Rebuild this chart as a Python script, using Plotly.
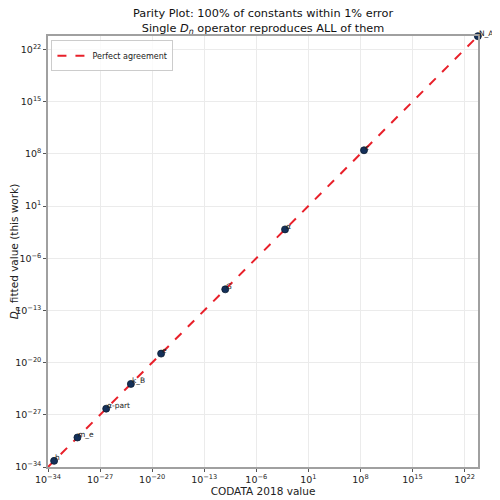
import math
import plotly.graph_objects as go

# constants: label, CODATA 2018 value, fitted D_n value
labels = ["h", "m_e", "α-part", "k_B", "e", "G", "α", "c", "N_A"]
codata = [6.62607015e-34, 9.1093837e-31, 6.6446573e-27, 1.380649e-23,
          1.602176634e-19, 6.6743e-11, 7.2973526e-3, 2.99792458e8, 6.02214076e23]
fitted = [6.631e-34, 9.118e-31, 6.651e-27, 1.3818e-23,
          1.6035e-19, 6.681e-11, 7.304e-3, 3.0007e8, 6.0275e23]

tick_vals = [1e-34, 1e-27, 1e-20, 1e-13, 1e-6, 1e1, 1e8, 1e15, 1e22]
line_span = [1e-34, 1e24]

# 10^n tick labels
tick_text = []
for v in tick_vals:
    exp = round(math.log10(v))
    tick_text.append("10<sup>" + str(exp).replace("-", "−") + "</sup>")

fig = go.Figure()

# y = x reference line
fig.add_trace(go.Scatter(
    x=line_span,
    y=line_span,
    mode='lines',
    line=dict(color='#e8202a', width=2, dash='dash'),
    name='Perfect agreement',
))

fig.add_trace(go.Scatter(
    x=codata,
    y=fitted,
    mode='markers',
    marker=dict(size=7, color='#14305a', line=dict(color='#0a1a30', width=0.8)),
    cliponaxis=False,
    showlegend=False,
))

# point labels, nudged up/right of each marker
for name, cx, fy in zip(labels, codata, fitted):
    fig.add_annotation(
        x=math.log10(cx), y=math.log10(fy),
        text=name, showarrow=False,
        xanchor='left', yanchor='middle',
        xshift=0, yshift=3,
        borderpad=0,
        font=dict(size=7.5, color='#222'),
    )

axis_style = dict(
    type='log',
    range=[-34, 23.8],
    tickvals=tick_vals,
    ticktext=tick_text,
    showgrid=True,
    gridcolor='#ebebeb',
    gridwidth=1,
    showline=True,
    mirror=True,
    linecolor='#a0a0a0',
    linewidth=1.5,
    ticks='outside',
    ticklen=3,
    tickcolor='#555',
    tickfont=dict(size=9.5, color='#222'),
    zeroline=False,
    automargin=False,
)

# page body adds ~8px offset, so the figure is a bit smaller than the window
fig.update_layout(
    width=492,
    height=492,
    margin=dict(l=40, r=22, t=28, b=33),
    paper_bgcolor='white',
    plot_bgcolor='white',
    font=dict(family='DejaVu Sans', color='#222'),
    title=dict(
        text='Parity Plot: 100% of constants within 1% error<br>'
             'Single <i>D</i><sub><i>n</i></sub> operator reproduces ALL of them',
        x=0.5, xref='paper', xanchor='center',
        yref='container', y=0.982, yanchor='top',
        font=dict(size=11.3, color='#111'),
        automargin=False,
    ),
    xaxis=dict(axis_style, title=dict(text='CODATA 2018 value', font=dict(size=10.5), standoff=2)),
    yaxis=dict(axis_style, title=dict(text='<i>D</i><sub><i>n</i></sub> fitted value (this work)',
                                      font=dict(size=10.5), standoff=4)),
    legend=dict(
        x=0.008, y=0.99, xanchor='left', yanchor='top',
        bgcolor='rgba(255,255,255,0.8)',
        bordercolor='#cccccc',
        borderwidth=1,
        font=dict(size=8),
        itemwidth=30,
    ),
)

fig.write_html("out.html")
